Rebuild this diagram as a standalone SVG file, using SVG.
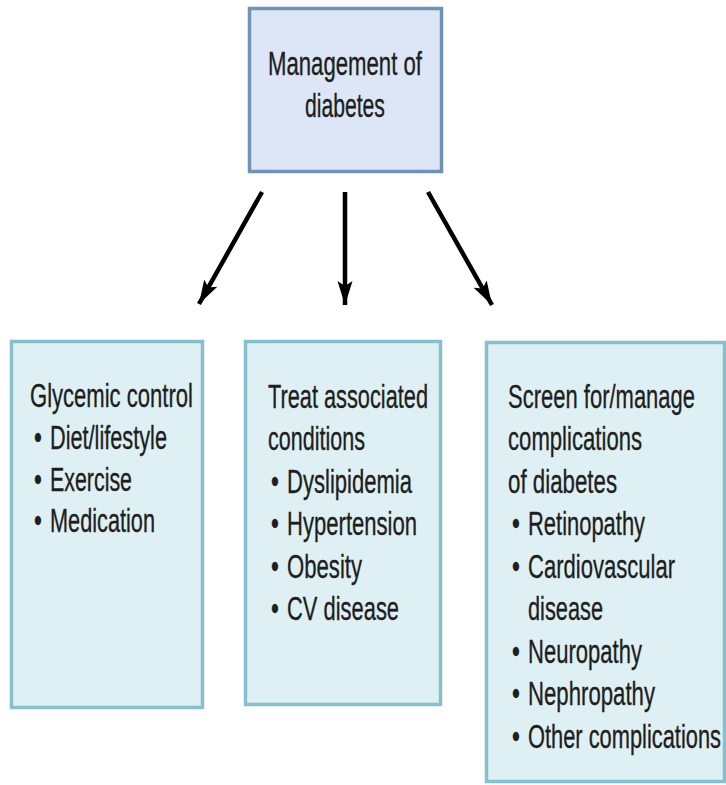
<svg xmlns="http://www.w3.org/2000/svg" width="726" height="785" viewBox="0 0 726 785">
<style>
.t{font-family:"Liberation Sans",Arial,sans-serif;font-size:33px;fill:#1e1e1e;stroke:#1e1e1e;stroke-width:0.35}
.top{fill:#dce6f6;stroke:#6f93b3;stroke-width:3.5}
.box{fill:#dff0f4;stroke:#88bfcc;stroke-width:3.5}
.arr{stroke:#000;stroke-width:4.5;fill:none}
</style>
<defs>
<marker id="ah" markerUnits="userSpaceOnUse" markerWidth="26" markerHeight="18" refX="24" refY="9" orient="auto">
<path d="M0,1.5 L24,9 L0,16.5 L5,9 z" fill="#000"/>
</marker>
</defs>
<rect width="726" height="785" fill="#fff"/>
<g id="n-management">
<rect class="top" x="249.5" y="8.5" width="192" height="163"/>
<g transform="scale(0.68,1)">
<text class="t" x="394.1" y="75" textLength="226.5" lengthAdjust="spacingAndGlyphs">Management of</text>
<text class="t" x="448.5" y="117" textLength="117.6" lengthAdjust="spacingAndGlyphs">diabetes</text>
</g>
</g>
<g id="n-glycemic">
<rect class="box" x="11.5" y="341.5" width="191" height="366"/>
<g transform="scale(0.68,1)">
<text class="t" x="44.1" y="407" textLength="239.7" lengthAdjust="spacingAndGlyphs">Glycemic control</text>
<text class="t" x="50" y="449">•</text>
<text class="t" x="73.5" y="449" textLength="172.1" lengthAdjust="spacingAndGlyphs">Diet/lifestyle</text>
<text class="t" x="50" y="491">•</text>
<text class="t" x="73.5" y="491" textLength="120.6" lengthAdjust="spacingAndGlyphs">Exercise</text>
<text class="t" x="50" y="532">•</text>
<text class="t" x="73.5" y="532" textLength="154.4" lengthAdjust="spacingAndGlyphs">Medication</text>
</g>
</g>
<g id="n-treat">
<rect class="box" x="245.5" y="341.5" width="195" height="363"/>
<g transform="scale(0.68,1)">
<text class="t" x="394.1" y="408" textLength="235.3" lengthAdjust="spacingAndGlyphs">Treat associated</text>
<text class="t" x="394.1" y="450" textLength="142.6" lengthAdjust="spacingAndGlyphs">conditions</text>
<text class="t" x="398.5" y="493">•</text>
<text class="t" x="422.1" y="493" textLength="183.8" lengthAdjust="spacingAndGlyphs">Dyslipidemia</text>
<text class="t" x="398.5" y="535">•</text>
<text class="t" x="422.1" y="535" textLength="191.2" lengthAdjust="spacingAndGlyphs">Hypertension</text>
<text class="t" x="398.5" y="578">•</text>
<text class="t" x="422.1" y="578" textLength="110.3" lengthAdjust="spacingAndGlyphs">Obesity</text>
<text class="t" x="398.5" y="620">•</text>
<text class="t" x="422.1" y="620" textLength="164.7" lengthAdjust="spacingAndGlyphs">CV disease</text>
</g>
</g>
<g id="n-screen">
<rect class="box" x="486.5" y="342.5" width="238" height="439"/>
<g transform="scale(0.68,1)">
<text class="t" x="747.1" y="408" textLength="275" lengthAdjust="spacingAndGlyphs">Screen for/manage</text>
<text class="t" x="747.1" y="450" textLength="197.1" lengthAdjust="spacingAndGlyphs">complications</text>
<text class="t" x="747.1" y="493" textLength="160.3" lengthAdjust="spacingAndGlyphs">of diabetes</text>
<text class="t" x="752.9" y="535">•</text>
<text class="t" x="776.5" y="535" textLength="172.1" lengthAdjust="spacingAndGlyphs">Retinopathy</text>
<text class="t" x="752.9" y="578">•</text>
<text class="t" x="776.5" y="578" textLength="216.2" lengthAdjust="spacingAndGlyphs">Cardiovascular</text>
<text class="t" x="776.5" y="620" textLength="110.3" lengthAdjust="spacingAndGlyphs">disease</text>
<text class="t" x="752.9" y="663">•</text>
<text class="t" x="776.5" y="663" textLength="167.6" lengthAdjust="spacingAndGlyphs">Neuropathy</text>
<text class="t" x="752.9" y="705">•</text>
<text class="t" x="776.5" y="705" textLength="186.8" lengthAdjust="spacingAndGlyphs">Nephropathy</text>
<text class="t" x="752.9" y="748">•</text>
<text class="t" x="776.5" y="748" textLength="283.8" lengthAdjust="spacingAndGlyphs">Other complications</text>
</g>
</g>
<g id="connectors">
<line class="arr" x1="262" y1="192" x2="199" y2="304" marker-end="url(#ah)"/>
<line class="arr" x1="345" y1="192" x2="345" y2="305" marker-end="url(#ah)"/>
<line class="arr" x1="428" y1="192" x2="492" y2="305" marker-end="url(#ah)"/>
</g>
</svg>
